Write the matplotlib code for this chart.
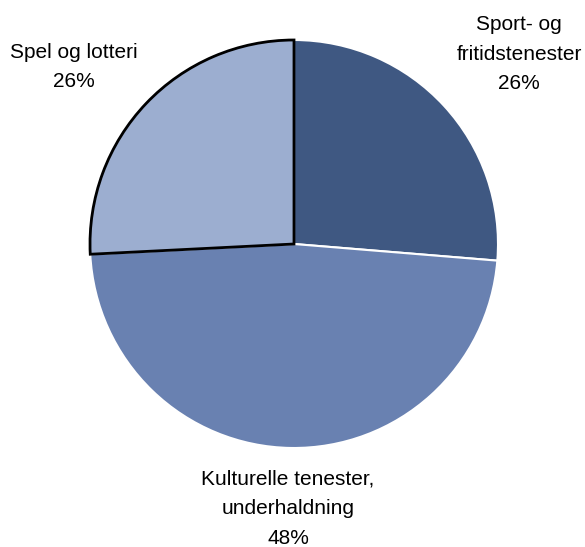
import matplotlib
matplotlib.use("Agg")
import matplotlib.pyplot as plt

categories = ["Sport- og\nfritidstenester", "Kulturelle tenester,\nunderhaldning", "Spel og lotteri"]
values = [26.3, 47.9, 25.8]
pct_labels = ["26%", "48%", "26%"]
colors = ["#3F5882", "#6981B1", "#9CAED0"]

plt.rcParams['font.family'] = ['Liberation Sans', 'DejaVu Sans']

W, H = 585, 547
fig = plt.figure(figsize=(W / 100, H / 100), dpi=100)
ax = fig.add_axes([0, 0, 1, 1])
ax.set_xlim(0, W)
ax.set_ylim(0, H)
ax.set_aspect('equal')
ax.axis('off')

cx, cy, r = 294, H - 244, 204
wedges, _ = ax.pie(values, colors=colors, startangle=90, counterclock=False,
                   center=(cx, cy), radius=r,
                   wedgeprops=dict(edgecolor='white', linewidth=1.5))
wedges[2].set_edgecolor('black')
wedges[2].set_linewidth(2.0)
wedges[2].set_zorder(3)
ax.set_xlim(0, W)
ax.set_ylim(0, H)

label_pos = [(519, H - 54), (288, H - 509), (74, H - 67)]
for cat, pct, (x, y) in zip(categories, pct_labels, label_pos):
    ax.text(x, y, f"{cat}\n{pct}", ha='center', va='center', fontsize=15,
            linespacing=1.72, color='black')

fig.savefig("out.png", dpi=100)
